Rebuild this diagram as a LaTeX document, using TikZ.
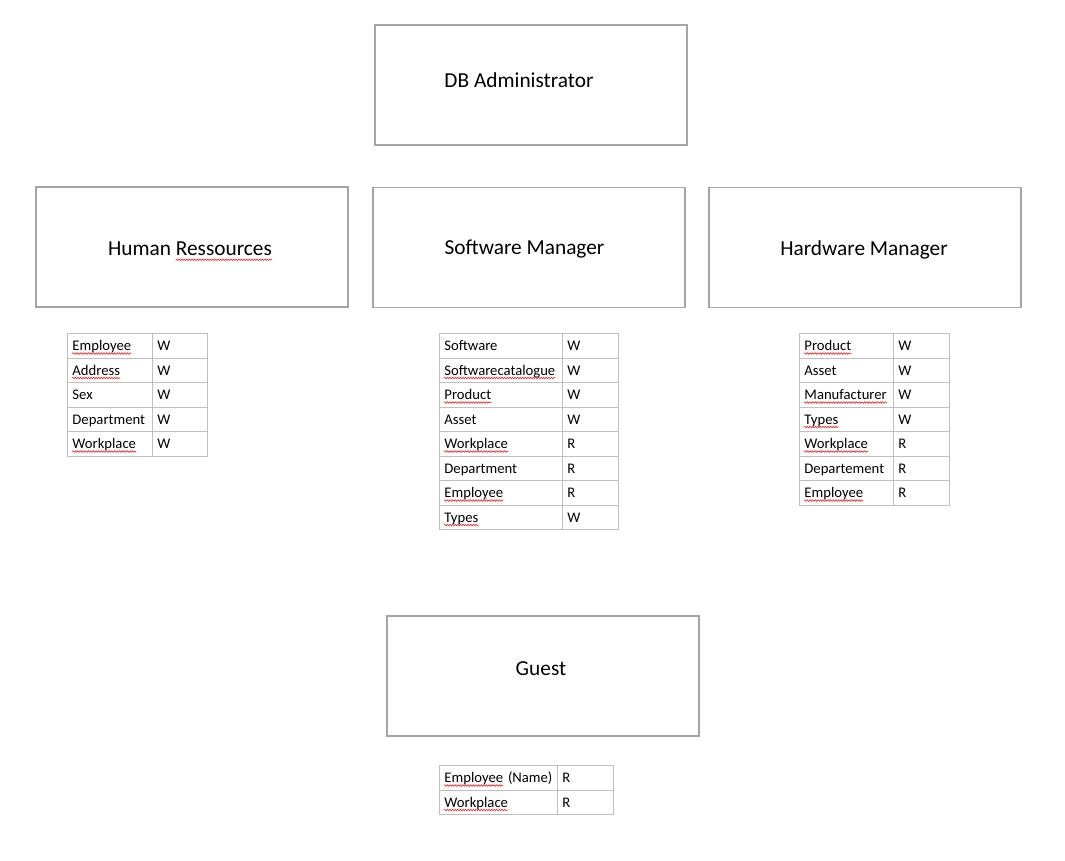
\documentclass[tikz,border=0pt]{standalone}
\usepackage{fontspec}
\setmainfont{Carlito}
\usetikzlibrary{decorations.pathmorphing}
\definecolor{boxgray}{RGB}{165,165,165}
\definecolor{cellgray}{RGB}{191,191,191}
\definecolor{wavered}{RGB}{230,40,40}
\newcommand\cellfont{\fontsize{14.67}{17}\selectfont}
\newcommand\rtitlefont{\fontsize{21.33}{25}\selectfont}
\def\nowave{-}
\tikzset{
  role/.style={draw=boxgray, line width=1.4pt, minimum width=312pt, minimum height=120pt, inner sep=0pt},
  roletitle/.style={font=\rtitlefont, inner sep=0pt},
  cell/.style={draw=cellgray, line width=0.9pt, anchor=north west, minimum height=24.5pt,
    inner xsep=5pt, inner ysep=0pt, align=left, text height=12pt, text depth=1.5pt,
    font=\cellfont},
  ghost/.style={inner sep=0pt, anchor=base west, font=\cellfont},
  wave/.style={draw=wavered, line width=0.6pt, decorate,
    decoration={snake, amplitude=0.8pt, segment length=2.6pt}},
}
\newcommand\permtable[6]{%
  \pgfmathsetmacro\wa{#3-10}%
  \pgfmathsetmacro\wb{#4-10}%
  \foreach [count=\i] \a/\b/\w in {#6}{%
    \pgfmathsetmacro\yy{#5+(\i-1)*24.5}%
    \node[cell, text width=\wa pt] (#1a\i) at (#2,\yy) {\a};
    \node[cell, text width=\wb pt] (#1b\i) at (#2+#3,\yy) {\b};
    \ifx\w\nowave\else
      \node[ghost] (#1g\i) at (#2+5,\yy+17.5) {\phantom{\w}};
      \path (#1g\i.base west) ++(0,3) coordinate (#1ws\i);
      \path (#1g\i.base east) ++(0,3) coordinate (#1we\i);
      \draw[wave] (#1ws\i) -- (#1we\i);
    \fi
  }%
}
\begin{document}
\begin{tikzpicture}[x=1pt,y=-1pt]
\useasboundingbox (0,0) rectangle (1065,860);
\fill[white] (0,0) rectangle (1065,860);

% role boxes
\node[role] (db) at (531,85) {};
\node[roletitle] (dbt) at (519,80) {DB Administrator};

\node[role] (hr) at (192,247) {};
\node[roletitle] (hrt) at (190,249) {Human Ressources};

\node[role] (sw) at (529,247.5) {};
\node[roletitle] (swt) at (524.5,249.5) {Software Manager};

\node[role] (hw) at (865,247.5) {};
\node[roletitle] (hwt) at (864,249.5) {Hardware Manager};

\node[role] (guest) at (543,676) {};
\node[roletitle] (guestt) at (541,669) {Guest};

% spell-check wave under "Ressources"
\node[roletitle, anchor=base east] (hrg) at (hrt.base east) {\phantom{Ressources}};
\path (hrg.base west) ++(0,4) coordinate (hrws);
\path (hrg.base east) ++(0,4) coordinate (hrwe);
\draw[wave] (hrws) -- (hrwe);

% permission tables
\permtable{hrtab}{67}{85}{55}{333}{Employee/W/Employee, Address/W/Address, Sex/W/-, Department/W/-, Workplace/W/Workplace}

\permtable{swtab}{439}{123}{56}{333}{Software/W/-, Softwarecatalogue/W/Softwarecatalogue, Product/W/Product, Asset/W/-, Workplace/R/Workplace, Department/R/-, Employee/R/Employee, Types/W/Types}

\permtable{hwtab}{799}{94}{56}{333}{Product/W/Product, Asset/W/-, Manufacturer/W/Manufacturer, Types/W/Types, Workplace/R/Workplace, Departement/R/-, Employee/R/Employee}

\permtable{gtab}{439}{118}{56}{765}{{Employee (Name)}/R/Employee, Workplace/R/Workplace}
\end{tikzpicture}
\end{document}
